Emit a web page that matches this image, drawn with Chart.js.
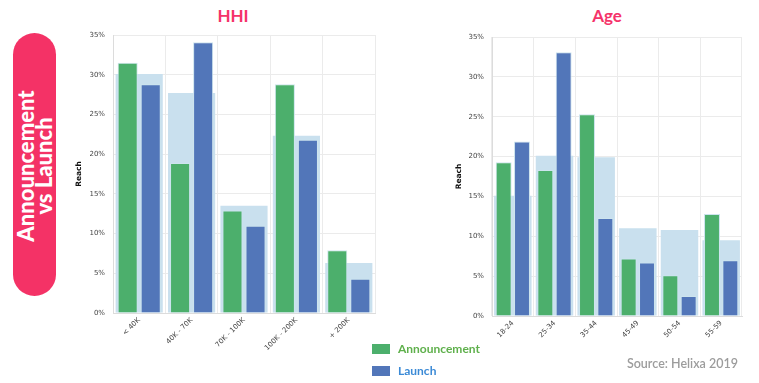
<!DOCTYPE html>
<html><head><meta charset="utf-8">
<script src="https://cdn.jsdelivr.net/npm/chart.js@4.4.0/dist/chart.umd.min.js"></script>
<style>
html,body{margin:0;padding:0;background:#fff;width:759px;height:383px;overflow:hidden;position:relative;font-family:Lato,"Open Sans",sans-serif;}
.pill{position:absolute;left:13px;top:33px;width:43px;height:263px;border-radius:22px;background:#f43266;}
.pilltext{position:absolute;left:34.5px;top:166px;transform:translate(-50%,-50%) rotate(-90deg);color:#fff;font-weight:900;font-size:22px;line-height:18px;text-align:center;white-space:nowrap;}
.title{position:absolute;top:5px;color:#f5336a;font-size:17px;font-weight:700;transform:translateX(-50%);}
.leg{position:absolute;width:18px;height:10px;}
.legt{position:absolute;font-size:12px;font-weight:700;line-height:14px;}
.src{position:absolute;right:21px;top:356px;font-size:12.5px;color:#9c9c9c;font-weight:600;}
canvas{position:absolute;}
</style></head>
<body>
<div class="pill"></div>
<div class="pilltext">Announcement<br>vs Launch</div>
<div class="title" style="left:233px;">HHI</div>
<div class="title" style="left:607px;">Age</div>
<canvas id="c1" width="320" height="360" style="left:60px;top:0;"></canvas>
<canvas id="c2" width="310" height="360" style="left:440px;top:0;"></canvas>
<div class="leg" style="left:372px;top:344px;background:#4caf6c;"></div>
<div class="legt" style="left:398px;top:342px;color:#5fb04c;">Announcement</div>
<div class="leg" style="left:372px;top:366px;background:#5276b9;"></div>
<div class="legt" style="left:398px;top:364px;color:#3b8ad6;">Launch</div>
<div class="src">Source: Helixa 2019</div>
<script>
const hhiLabels = ['< 40K','40K - 70K','70K - 100K','100K - 200K','+ 200K'];
const hhiAnnouncement = [31.5, 18.9, 12.9, 28.8, 7.9];
const hhiLaunch = [28.8, 34.1, 11.0, 21.8, 4.3];
const hhiBaseline = [30.1, 27.7, 13.5, 22.3, 6.3];

const ageLabels = ['18-24','25-34','35-44','45-49','50-54','55-59'];
const ageAnnouncement = [19.3, 18.3, 25.3, 7.2, 5.1, 12.8];
const ageLaunch = [21.9, 33.1, 12.3, 6.7, 2.5, 7.0];
const ageBaseline = [15.1, 20.1, 19.9, 11.0, 10.8, 9.5];

const yTicks = [0,5,10,15,20,25,30,35];

function makeChart(id, labels, ann, lau, base, yW, xH, padR, padT){
  return new Chart(document.getElementById(id), {
    type:'bar',
    data:{labels:labels, datasets:[
      {label:'Announcement', data:ann, order:1, backgroundColor:'#4caf6c', borderColor:'#cde4ee', borderWidth:1, categoryPercentage:0.88, barPercentage:0.87},
      {label:'Launch', data:lau, order:1, backgroundColor:'#5276b9', borderColor:'#cde4ee', borderWidth:1, categoryPercentage:0.88, barPercentage:0.87},
      {label:'Baseline', data:base, order:2, grouped:false, backgroundColor:'#c9e0ee', borderWidth:0, categoryPercentage:0.9, barPercentage:1}
    ]},
    options:{
      responsive:false, animation:false,
      layout:{padding:{top:padT,right:padR,left:0,bottom:0}},
      plugins:{legend:{display:false},tooltip:{enabled:false},title:{display:false}},
      scales:{
        x:{offset:true, grid:{color:'#ebebeb', drawTicks:false, offset:true}, border:{color:'#dcdcdc'},
           ticks:{color:'#444', font:{family:'DejaVu Sans', size:7}, minRotation:45, maxRotation:45, padding:3, autoSkip:false},
           afterFit:(s)=>{s.height=xH;}},
        y:{min:0,max:35, afterBuildTicks:(s)=>{s.ticks=yTicks.map(v=>({value:v}));},
           grid:{color:'#ebebeb', drawTicks:false}, border:{color:'#dcdcdc'},
           ticks:{color:'#444', font:{family:'DejaVu Sans', size:7}, padding:8, callback:(v)=>v+'%'},
           title:{display:true, text:'Reach', color:'#111', font:{family:'DejaVu Sans', size:7.5, weight:'bold'}, padding:{top:15,bottom:0}},
           afterFit:(s)=>{s.width=yW;}}
      }
    }
  });
}
makeChart('c1', hhiLabels, hhiAnnouncement, hhiLaunch, hhiBaseline, 53, 47, 5, 35);
makeChart('c2', ageLabels, ageAnnouncement, ageLaunch, ageBaseline, 52, 44, 8, 37);
</script>
</body></html>
